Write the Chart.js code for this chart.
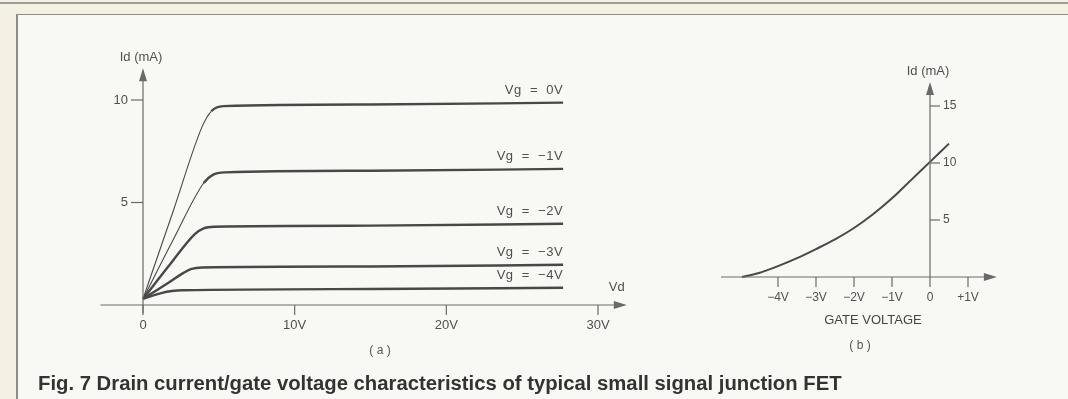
<!DOCTYPE html>
<html>
<head>
<meta charset="utf-8">
<script src="https://cdn.jsdelivr.net/npm/chart.js@4.4.0/dist/chart.umd.min.js"></script>
<style>
    html, body { margin: 0; padding: 0; }
    body {
        width: 1068px; height: 399px; position: relative; overflow: hidden;
        background: #f5f1e2;
        font-family: 'Liberation Sans', Arial, sans-serif;
    }
    #panel {
        position: absolute; left: 16px; top: 14px; right: 0; bottom: 0;
        background: #f8f8f5;
        border-left: 2px solid #8c8c88; border-top: 1px solid #8c8c88;
    }
    #topline { position: absolute; left: 0; top: 2px; width: 1068px; border-top: 2px solid #9c9c98; }
    canvas { position: absolute; top: 0; }
    .lbl { position: absolute; transform: translate(-50%, -50%); white-space: nowrap; color: #555; }
    #caption {
        position: absolute; left: 38px; top: 371px; line-height: 24px;
        font-weight: bold; font-size: 20.3px; color: #333; white-space: nowrap;
    }
</style>
</head>
<body>
<div id="topline"></div>
<div id="panel"></div>
<canvas id="chartA" width="680" height="399" style="left:0"></canvas>
<canvas id="chartB" width="388" height="399" style="left:680px"></canvas>
<div class="lbl" style="left:380px; top:350px; font-size:12px;">( a )</div>
<div class="lbl" style="left:873px; top:319px; font-size:13px; color:#444;">GATE VOLTAGE</div>
<div class="lbl" style="left:860px; top:345px; font-size:12px;">( b )</div>
<div id="caption">Fig. 7 Drain current/gate voltage characteristics of typical small signal junction FET</div>
<script>
// (a) drain characteristics: [Vd (V), Id (mA)] per gate voltage
const gateLabels = ['Vg  =  0V', 'Vg  =  \u22121V', 'Vg  =  \u22122V', 'Vg  =  \u22123V', 'Vg  =  \u22124V'];
const curveVg0 = [[0, 0.3], [2, 4.6], [3.9, 8.7], [4.5, 9.45], [5.3, 9.7], [15, 9.78], [27.7, 9.87]];
const curveVg1 = [[0, 0.3], [2, 3.2], [4.0, 5.95], [4.6, 6.35], [5.4, 6.47], [15, 6.55], [27.7, 6.64]];
const curveVg2 = [[0, 0.3], [1.8, 2.0], [3.4, 3.45], [4.0, 3.74], [4.7, 3.82], [15, 3.87], [27.7, 3.96]];
const curveVg3 = [[0, 0.3], [1.5, 1.0], [2.7, 1.58], [3.2, 1.76], [3.9, 1.83], [15, 1.88], [27.7, 1.96]];
const curveVg4 = [[0, 0.3], [0.6, 0.45], [1.2, 0.58], [1.9, 0.68], [2.6, 0.72], [15, 0.78], [27.7, 0.84]];
const vdTicks = [0, 10, 20, 30];
const vdTickLabels = ['0', '10V', '20V', '30V'];
const idTicksA = [5, 10];
const idTickLabelsA = ['5', '10'];

// (b) transfer curve: gate voltage vs Id
const gateVolts = [-4.95, -4.5, -4, -3.5, -3, -2.5, -2, -1.5, -1, -0.5, 0, 0.5];
const transferId = [0, 0.35, 0.95, 1.65, 2.45, 3.3, 4.3, 5.5, 6.9, 8.5, 10.1, 11.7];
const vgTicks = [-4, -3, -2, -1, 0, 1];
const vgTickLabels = ['\u22124V', '\u22123V', '\u22122V', '\u22121V', '0', '+1V'];
const idTicksB = [5, 10, 15];
const idTickLabelsB = ['5', '10', '15'];

const INK = '#484848';
const AXIS = '#6a6a6a';
const TEXT = '#505050';

function toPoints(pairs) {
    return pairs.map(p => ({ x: p[0], y: p[1] }));
}

function arrowHead(ctx, x, y, dir) {
    ctx.beginPath();
    if (dir === 'right') {
        ctx.moveTo(x, y); ctx.lineTo(x - 13, y - 4); ctx.lineTo(x - 13, y + 4);
    } else {
        ctx.moveTo(x, y); ctx.lineTo(x - 4, y + 13); ctx.lineTo(x + 4, y + 13);
    }
    ctx.closePath();
    ctx.fill();
}

// axes crossing at the origin, with arrows, ticks and labels
const drawnAxes = {
    id: 'drawnAxes',
    afterDatasetsDraw(chart, args, o) {
        const ctx = chart.ctx;
        const xs = chart.scales.x, ys = chart.scales.y;
        const x0 = xs.getPixelForValue(0), y0 = ys.getPixelForValue(0);
        ctx.save();
        ctx.strokeStyle = AXIS;
        ctx.fillStyle = AXIS;
        ctx.lineWidth = 1.2;

        // x axis
        const xa = xs.getPixelForValue(o.xFrom), xb = xs.getPixelForValue(o.xTo);
        ctx.beginPath(); ctx.moveTo(xa, y0); ctx.lineTo(xb - 8, y0); ctx.stroke();
        arrowHead(ctx, xb, y0, 'right');

        // y axis
        const ya = ys.getPixelForValue(o.yFrom), yb = ys.getPixelForValue(o.yTo);
        ctx.beginPath(); ctx.moveTo(x0, ya); ctx.lineTo(x0, yb + 8); ctx.stroke();
        arrowHead(ctx, x0, yb, 'up');

        ctx.fillStyle = TEXT;
        ctx.textBaseline = 'middle';

        // x ticks
        ctx.font = o.xFont;
        ctx.textAlign = 'center';
        o.xTicks.forEach((v, i) => {
            const px = xs.getPixelForValue(v);
            ctx.beginPath(); ctx.moveTo(px, y0); ctx.lineTo(px, y0 + 10); ctx.stroke();
            ctx.fillText(o.xLabels[i], px, y0 + o.xLabelGap);
        });

        // y ticks
        ctx.font = o.yFont;
        o.yTicks.forEach((v, i) => {
            const py = ys.getPixelForValue(v);
            const dir = o.yTickSide === 'left' ? -1 : 1;
            ctx.beginPath(); ctx.moveTo(x0, py); ctx.lineTo(x0 + dir * o.yTickLen, py); ctx.stroke();
            ctx.textAlign = dir < 0 ? 'right' : 'left';
            ctx.fillText(o.yLabels[i], x0 + dir * (o.yTickLen + 3), py);
        });

        // axis titles
        ctx.font = '13px "Liberation Sans", Arial, sans-serif';
        ctx.textAlign = 'center';
        ctx.fillText(o.yTitle, x0 - 2, yb - 11);
        if (o.xTitle) {
            ctx.fillText(o.xTitle, xb - 10, y0 - 18);
        }

        // series labels above the end of each curve
        if (o.seriesLabels) {
            ctx.font = '13px "Liberation Sans", Arial, sans-serif';
            ctx.letterSpacing = '0.5px';
            ctx.textAlign = 'right';
            chart.data.datasets.forEach((ds, i) => {
                const pts = chart.getDatasetMeta(i).data;
                const last = pts[pts.length - 1];
                ctx.fillText(ds.label, last.x, last.y - 12);
            });
        }
        ctx.restore();
    }
};

function lineSet(label, data) {
    return {
        label: label,
        data: data,
        showLine: true,
        borderColor: INK,
        borderWidth: 2.4,
        pointRadius: 0,
        cubicInterpolationMode: 'monotone',
        clip: false,
        segment: {
            // steep rising part is drawn thin, the flat part thick
            borderWidth: c => {
                const dx = c.p1.parsed.x - c.p0.parsed.x;
                const dy = c.p1.parsed.y - c.p0.parsed.y;
                return dy / dx > 1.2 ? 1.1 : 2.4;
            }
        }
    };
}

const baseOptions = (padding, xMin, xMax, yMin, yMax, axesOpts) => ({
    responsive: false,
    animation: false,
    devicePixelRatio: 1,
    layout: { padding: padding },
    plugins: { legend: { display: false }, tooltip: { enabled: false }, drawnAxes: axesOpts },
    scales: {
        x: { type: 'linear', min: xMin, max: xMax, display: false },
        y: { type: 'linear', min: yMin, max: yMax, display: false }
    }
});

new Chart(document.getElementById('chartA'), {
    type: 'scatter',
    data: {
        datasets: [
            lineSet(gateLabels[0], toPoints(curveVg0)),
            lineSet(gateLabels[1], toPoints(curveVg1)),
            lineSet(gateLabels[2], toPoints(curveVg2)),
            lineSet(gateLabels[3], toPoints(curveVg3)),
            lineSet(gateLabels[4], toPoints(curveVg4))
        ]
    },
    options: baseOptions({ left: 143, right: 82, top: 100, bottom: 94 }, 0, 30, 0, 10, {
        xFrom: -2.8, xTo: 31.9, yFrom: -0.4, yTo: 11.55,
        xTicks: vdTicks, xLabels: vdTickLabels, xLabelGap: 20,
        xFont: '13px "Liberation Sans", Arial, sans-serif',
        yTicks: idTicksA, yLabels: idTickLabelsA, yTickSide: 'left', yTickLen: 12,
        yFont: '13px "Liberation Sans", Arial, sans-serif',
        yTitle: 'Id (mA)', xTitle: 'Vd', seriesLabels: true
    }),
    plugins: [drawnAxes]
});

new Chart(document.getElementById('chartB'), {
    type: 'scatter',
    data: {
        datasets: [{
            label: 'Id',
            data: gateVolts.map((v, i) => ({ x: v, y: transferId[i] })),
            showLine: true,
            borderColor: INK,
            borderWidth: 2,
            pointRadius: 0,
            cubicInterpolationMode: 'monotone',
            clip: false
        }]
    },
    options: baseOptions({ left: 41, right: 100, top: 106, bottom: 122 }, -5.5, 1, 0, 15, {
        xFrom: -5.5, xTo: 1.76, yFrom: 0, yTo: 17.1,
        xTicks: vgTicks, xLabels: vgTickLabels, xLabelGap: 21,
        xFont: '12px "Liberation Sans", Arial, sans-serif',
        yTicks: idTicksB, yLabels: idTickLabelsB, yTickSide: 'right', yTickLen: 10,
        yFont: '12px "Liberation Sans", Arial, sans-serif',
        yTitle: 'Id (mA)', seriesLabels: false
    }),
    plugins: [drawnAxes]
});
</script>
</body>
</html>
